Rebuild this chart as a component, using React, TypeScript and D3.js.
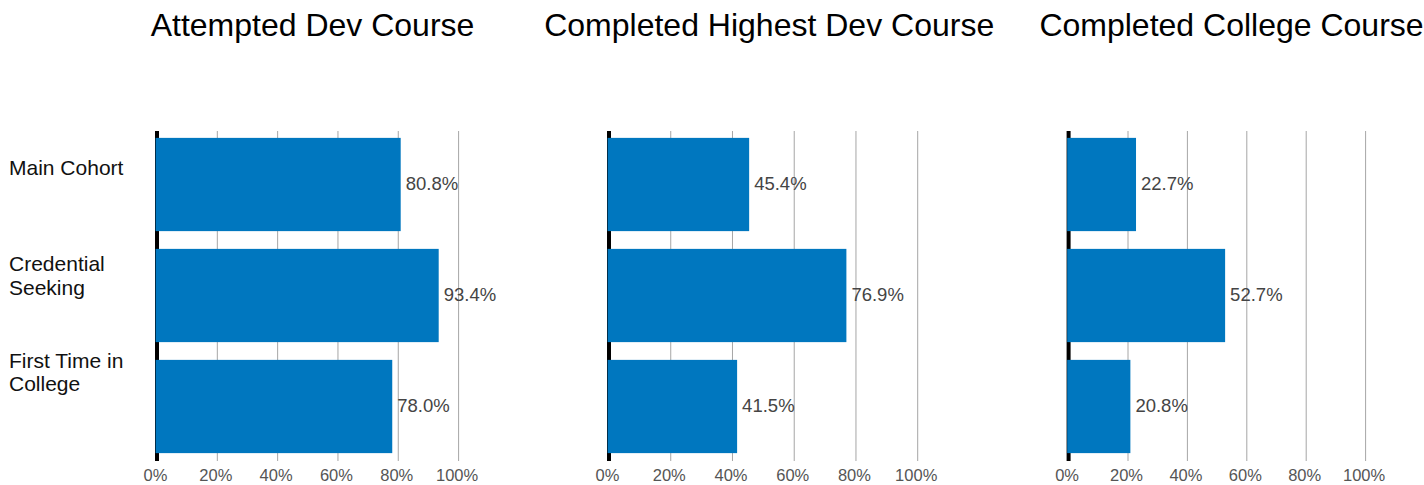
import { scaleLinear, scaleBand, scalePoint } from "d3";

// Data
const categories = ["Main Cohort", "Credential Seeking", "First Time in College"];
const categoryLines = [["Main Cohort"], ["Credential", "Seeking"], ["First Time in", "College"]];
const panelTitles = ["Attempted Dev Course", "Completed Highest Dev Course", "Completed College Course"];
const attemptedDev = [80.8, 93.4, 78.0];
const completedHighestDev = [45.4, 76.9, 41.5];
const completedCollege = [22.7, 52.7, 20.8];
const tickValues = [0, 20, 40, 60, 80, 100];

const seriesByPanel = [attemptedDev, completedHighestDev, completedCollege];

// layout of each panel (pixels)
const panels = [
  { x0: 157, width: 301.6, titleX: 312.5 },
  { x0: 609, width: 308.7, titleX: 769.2 },
  { x0: 1068.6, width: 297, titleX: 1231.5 },
];

const W = 1424;
const H = 485;
const plotTop = 129;
const plotBottom = 462;
const FONT = "'Liberation Sans', Arial, Helvetica, sans-serif";
const BAR = "#0077bf";

const yScale = scaleBand<string>()
  .domain(categories)
  .range([plotTop, plotBottom])
  .paddingInner(0.16)
  .paddingOuter(0.08);

// category labels sit on their own spacing, not on the bands
const labelScale = scalePoint<string>().domain(categories).range([174.5, 367.5]);

function Panel({ index }: { index: number }) {
  const p = panels[index];
  const values = seriesByPanel[index];
  const x = scaleLinear().domain([0, 100]).range([p.x0, p.x0 + p.width]);

  return (
    <g>
      <text
        x={p.titleX}
        y={36}
        textAnchor="middle"
        fontSize={32}
        fill="#000"
        fontFamily={FONT}
      >
        {panelTitles[index]}
      </text>

      {/* grid lines */}
      {tickValues.slice(1).map((t) => (
        <line
          key={t}
          x1={x(t)}
          x2={x(t)}
          y1={131}
          y2={461}
          stroke="#a6a6a6"
          strokeWidth={1}
        />
      ))}

      {/* zero axis */}
      <line x1={x(0)} x2={x(0)} y1={131} y2={461} stroke="#000" strokeWidth={4} />

      {/* bars */}
      {categories.map((c, i) => (
        <rect
          key={c}
          x={x(0) - 1.4}
          y={yScale(c)}
          width={x(values[i]) - x(0) + 1.4}
          height={yScale.bandwidth()}
          fill={BAR}
        />
      ))}

      {/* value labels */}
      {categories.map((c, i) => (
        <text
          key={c}
          x={x(values[i]) + 5}
          y={(yScale(c) ?? 0) + yScale.bandwidth() / 2 + 5}
          fontSize={18.5}
          fill="#444"
          fontFamily={FONT}
        >
          {values[i].toFixed(1)}%
        </text>
      ))}

      {/* x ticks */}
      {tickValues.map((t) => (
        <text
          key={t}
          x={x(t) - 1.5}
          y={481}
          textAnchor="middle"
          fontSize={16.5}
          fill="#555"
          fontFamily={FONT}
        >
          {t}%
        </text>
      ))}
    </g>
  );
}

export default function App() {
  return (
    <div style={{ position: "absolute", left: 0, top: 0 }}>
      <svg width={W} height={H} style={{ display: "block", background: "#fff" }}>
        {/* category labels */}
        {categories.map((c, i) => (
          <text key={c} x={9} y={labelScale(c)} fontSize={21} fill="#111" fontFamily={FONT}>
            {categoryLines[i].map((ln, j) => (
              <tspan key={j} x={9} dy={j === 0 ? 0 : 23.5}>
                {ln}
              </tspan>
            ))}
          </text>
        ))}
        {panels.map((_, i) => (
          <Panel key={i} index={i} />
        ))}
      </svg>
    </div>
  );
}
